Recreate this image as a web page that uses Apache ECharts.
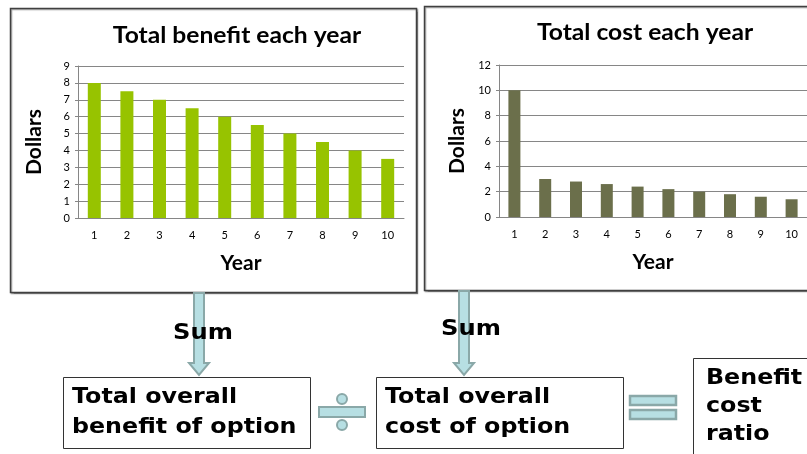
<!DOCTYPE html>
<html>
<head>
<meta charset="utf-8">
<script src="https://cdn.jsdelivr.net/npm/echarts@6/dist/echarts.min.js"></script>
<style>
  html, body { margin: 0; padding: 0; background: #fff; }
  #chart { width: 807px; height: 454px; }
</style>
</head>
<body>
<div id="chart"></div>
<script>
var years = ['1', '2', '3', '4', '5', '6', '7', '8', '9', '10'];
var benefitValues = [8, 7.5, 7, 6.5, 6, 5.5, 5, 4.5, 4, 3.5];
var costValues = [10, 3, 2.8, 2.6, 2.4, 2.2, 2.0, 1.8, 1.6, 1.4];

var chartFont = 'Lato, "Open Sans", sans-serif';
var boxFont = '"DejaVu Sans", Verdana, sans-serif';
var tick_size = 11;
var name_size = 21;

var myChart = echarts.init(document.getElementById('chart'));

// arrow pointing down, shaft from y0 to y1 (tip)
function arrow(cx, y0, y1) {
  return {
    type: 'polygon',
    shape: {
      points: [
        [cx - 5, y0], [cx + 5, y0], [cx + 5, y1 - 12], [cx + 10, y1 - 12],
        [cx, y1], [cx - 10, y1 - 12], [cx - 5, y1 - 12]
      ]
    },
    style: { fill: '#b7dfe3', stroke: '#8aa8a8', lineWidth: 2 }
  };
}

function boxText(x, y, text, lh) {
  return {
    type: 'text', x: x, y: y, scaleX: 1.08,
    style: { text: text, font: 'bold 22px ' + boxFont, fill: '#000', lineHeight: lh }
  };
}

function yAxisOpt(idx, max, interval) {
  return {
    type: 'value', gridIndex: idx, min: 0, max: max, interval: interval,
    name: 'Dollars', nameLocation: 'middle', nameGap: idx === 0 ? 33 : 31,
    nameTextStyle: { fontFamily: chartFont, fontSize: name_size, fontWeight: 'bold', color: '#000' },
    axisLine: { show: true, lineStyle: { color: '#868686' } },
    axisTick: { show: true, length: 3, lineStyle: { color: '#868686' } },
    axisLabel: { fontFamily: chartFont, fontSize: tick_size, color: '#000', margin: 8 },
    splitLine: { lineStyle: { color: '#868686' } }
  };
}

function xAxisOpt(idx) {
  return {
    type: 'category', gridIndex: idx, data: years,
    name: 'Year', nameLocation: 'middle', nameGap: 35,
    nameTextStyle: { fontFamily: chartFont, fontSize: name_size, fontWeight: 'bold', color: '#000' },
    axisLine: { lineStyle: { color: '#868686' } },
    axisTick: { show: false },
    axisLabel: { fontFamily: chartFont, fontSize: tick_size, color: '#000', margin: 12, interval: 0 }
  };
}

myChart.setOption({
  animation: false,
  grid: [
    { left: 78, top: 66, width: 326, height: 152 },
    { left: 499, top: 65, width: 308, height: 152 }
  ],
  xAxis: [xAxisOpt(0), xAxisOpt(1)],
  yAxis: [yAxisOpt(0, 9, 1), yAxisOpt(1, 12, 2)],
  series: [
    {
      type: 'bar', name: 'Total benefit', data: benefitValues,
      xAxisIndex: 0, yAxisIndex: 0, barWidth: 13,
      itemStyle: { color: '#97c300' }
    },
    {
      type: 'bar', name: 'Total cost', data: costValues,
      xAxisIndex: 1, yAxisIndex: 1, barWidth: 12,
      itemStyle: { color: '#6b6f4b' }
    }
  ],
  graphic: [
    // chart frames
    { type: 'rect', z: -10, shape: { x: 10.5, y: 8.5, width: 406, height: 284 },
      style: { fill: '#fff', stroke: '#404040', lineWidth: 1.5, shadowColor: 'rgba(0,0,0,0.35)', shadowOffsetX: 1, shadowOffsetY: 1, shadowBlur: 1 } },
    { type: 'rect', z: -10, shape: { x: 424.5, y: 6.5, width: 400, height: 284 },
      style: { fill: '#fff', stroke: '#404040', lineWidth: 1.5, shadowColor: 'rgba(0,0,0,0.35)', shadowOffsetX: 1, shadowOffsetY: 1, shadowBlur: 1 } },
    // chart titles
    { type: 'text', x: 237, y: 36, scaleX: 1.12, style: { text: 'Total benefit each year', font: 'bold 22px ' + chartFont, fill: '#000', align: 'center', verticalAlign: 'middle' } },
    { type: 'text', x: 645, y: 33, scaleX: 1.12, style: { text: 'Total cost each year', font: 'bold 22px ' + chartFont, fill: '#000', align: 'center', verticalAlign: 'middle' } },
    // arrows
    arrow(199, 293, 375),
    arrow(464, 291, 375),
    { type: 'text', x: 203, y: 333, z: 10, scaleX: 1.1, style: { text: 'Sum', font: 'bold 22px ' + boxFont, fill: '#000', align: 'center', verticalAlign: 'middle' } },
    { type: 'text', x: 471, y: 329, z: 10, scaleX: 1.1, style: { text: 'Sum', font: 'bold 22px ' + boxFont, fill: '#000', align: 'center', verticalAlign: 'middle' } },
    // result boxes
    { type: 'rect', shape: { x: 63.5, y: 377.5, width: 247, height: 71 }, style: { fill: '#fff', stroke: '#333', lineWidth: 1 } },
    { type: 'rect', shape: { x: 376.5, y: 377.5, width: 247, height: 71 }, style: { fill: '#fff', stroke: '#333', lineWidth: 1 } },
    { type: 'rect', shape: { x: 693.5, y: 358.5, width: 130, height: 110 }, style: { fill: '#fff', stroke: '#333', lineWidth: 1 } },
    boxText(72, 382, 'Total overall\nbenefit of option', 30),
    boxText(385, 382, 'Total overall\ncost of option', 30),
    boxText(706, 364, 'Benefit\ncost\nratio', 28),
    // divide sign
    { type: 'rect', shape: { x: 319, y: 407, width: 46, height: 10 }, style: { fill: '#b7dfe3', stroke: '#8aa8a8', lineWidth: 2 } },
    { type: 'circle', shape: { cx: 342, cy: 399, r: 5 }, style: { fill: '#b7dfe3', stroke: '#8aa8a8', lineWidth: 2 } },
    { type: 'circle', shape: { cx: 342, cy: 425, r: 5 }, style: { fill: '#b7dfe3', stroke: '#8aa8a8', lineWidth: 2 } },
    // equals sign
    { type: 'rect', shape: { x: 630, y: 396, width: 46, height: 9 }, style: { fill: '#b7dfe3', stroke: '#8aa8a8', lineWidth: 2.5 } },
    { type: 'rect', shape: { x: 630, y: 410, width: 46, height: 9 }, style: { fill: '#b7dfe3', stroke: '#8aa8a8', lineWidth: 2.5 } }
  ]
});
</script>
</body>
</html>
